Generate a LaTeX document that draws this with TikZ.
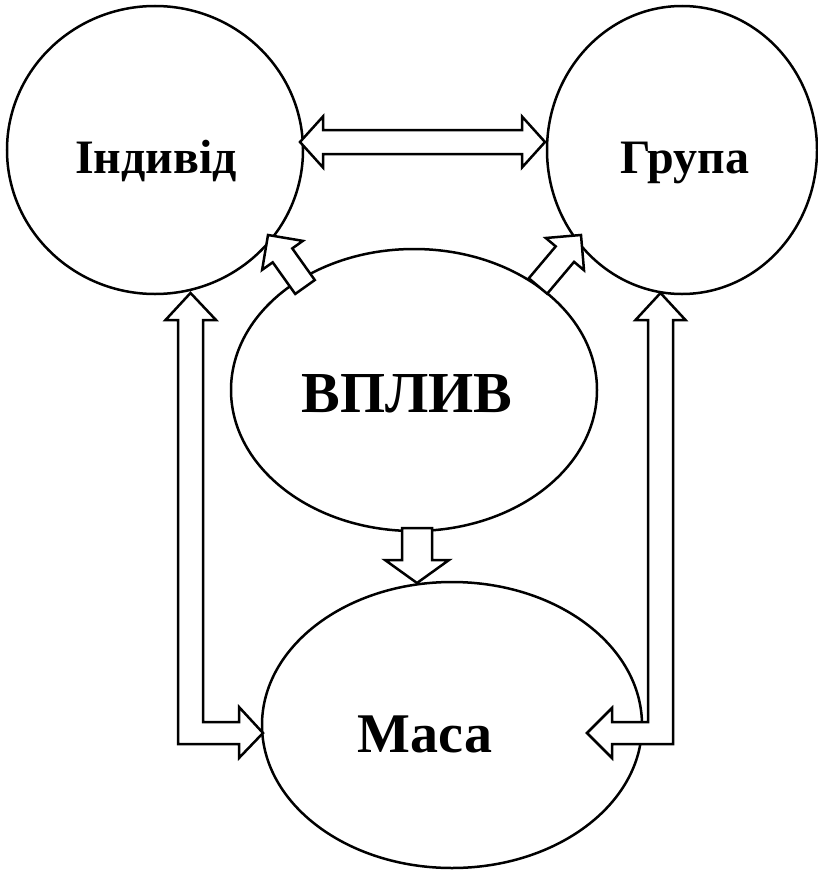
\documentclass[tikz,border=0pt]{standalone}
\usepackage{fontspec}
\setmainfont{Liberation Serif}
\usetikzlibrary{shapes.geometric,calc}
\begin{document}
\begin{tikzpicture}[x=1pt,y=-1pt,
  blob/.style={draw=black,line width=2.5pt,ellipse,inner sep=0pt},
  lbl/.style={anchor=base,inner sep=0pt,font=\bfseries},
  blockarrow/.style={draw=black,line width=2.5pt,fill=white,line join=miter}]
\useasboundingbox (0,0) rectangle (817,870);

% the four ellipses
\node[blob,minimum width=296pt,minimum height=288pt] (ind) at (155,150) {};
\node[blob,minimum width=270pt,minimum height=288pt] (gr)  at (682,150) {};
\node[blob,minimum width=366pt,minimum height=282pt] (vp)  at (414,390) {};
\node[blob,minimum width=380pt,minimum height=286pt] (ma)  at (452,725) {};

% their labels
\node[lbl,font=\bfseries\fontsize{48}{52}\selectfont] (tind) at (156,173) {Індивід};
\node[lbl,font=\bfseries\fontsize{48}{52}\selectfont] (tgr)  at (685,173) {Група};
\node[lbl,font=\bfseries\fontsize{58}{62}\selectfont] (tvp)  at (407,412) {ВПЛИВ};
\node[lbl,font=\bfseries\fontsize{56}{60}\selectfont] (tma)  at (425,752) {Маса};

% arrow end points on the ellipse borders
\coordinate (indR)  at (300,142);
\coordinate (grL)   at (545,142);
\coordinate (vpNW)  at (305,287);
\coordinate (indSE) at (268,235);
\coordinate (vpNE)  at (538,286);
\coordinate (grSW)  at (581,235);
\coordinate (vpS)   at (417,528);
\coordinate (maN)   at (417,583);

% Індивід <-> Група
\coordinate (hA) at ($(indR)!23pt!(grL)$);
\coordinate (hB) at ($(grL)!23pt!(indR)$);
\draw[blockarrow]
  (indR) -- ($(hA)!25.5pt!90:(grL)$) -- ($(hA)!12pt!90:(grL)$)
  -- ($(hB)!12pt!-90:(indR)$) -- ($(hB)!25.5pt!-90:(indR)$) -- (grL)
  -- ($(hB)!25.5pt!90:(indR)$) -- ($(hB)!12pt!90:(indR)$)
  -- ($(hA)!12pt!-90:(grL)$) -- ($(hA)!25.5pt!-90:(grL)$) -- cycle;

% ВПЛИВ -> Індивід
\coordinate (hC) at ($(indSE)!25pt!(vpNW)$);
\draw[blockarrow]
  ($(vpNW)!12pt!90:(indSE)$) -- ($(hC)!12pt!-90:(vpNW)$) -- ($(hC)!25pt!-90:(vpNW)$)
  -- (indSE) -- ($(hC)!25pt!90:(vpNW)$) -- ($(hC)!12pt!90:(vpNW)$)
  -- ($(vpNW)!12pt!-90:(indSE)$) -- cycle;

% ВПЛИВ -> Група
\coordinate (hD) at ($(grSW)!25pt!(vpNE)$);
\draw[blockarrow]
  ($(vpNE)!12pt!90:(grSW)$) -- ($(hD)!12pt!-90:(vpNE)$) -- ($(hD)!25pt!-90:(vpNE)$)
  -- (grSW) -- ($(hD)!25pt!90:(vpNE)$) -- ($(hD)!12pt!90:(vpNE)$)
  -- ($(vpNE)!12pt!-90:(grSW)$) -- cycle;

% ВПЛИВ -> Маса
\coordinate (hE) at ($(maN)!23pt!(vpS)$);
\draw[blockarrow]
  ($(vpS)!15pt!90:(maN)$) -- ($(hE)!15pt!-90:(vpS)$) -- ($(hE)!32pt!-90:(vpS)$)
  -- (maN) -- ($(hE)!32pt!90:(vpS)$) -- ($(hE)!15pt!90:(vpS)$)
  -- ($(vpS)!15pt!-90:(maN)$) -- cycle;

% Індивід <-> Маса (elbow)
\coordinate (indS) at (190.5,293);
\coordinate (maW)  at (263,733);
\draw[blockarrow]
  (indS) -- ++(25.5,27) -- ++(-13,0) |- ($(maW)+(-24,-11)$) -- ++(0,-15)
  -- (maW) -- ++(-24,25) -- ++(0,-14) -| ($(indS)+(-12.5,27)$) -- ++(-12.5,0) -- cycle;

% Група <-> Маса (elbow)
\coordinate (grS) at (660.5,293);
\coordinate (maE) at (587,733);
\draw[blockarrow]
  (grS) -- ++(25,27) -- ++(-12.5,0) |- ($(maE)+(25,11)$) -- ++(0,14)
  -- (maE) -- ++(25,-25) -- ++(0,14) -| ($(grS)+(-12.5,27)$) -- ++(-12.5,0) -- cycle;
\end{tikzpicture}
\end{document}
